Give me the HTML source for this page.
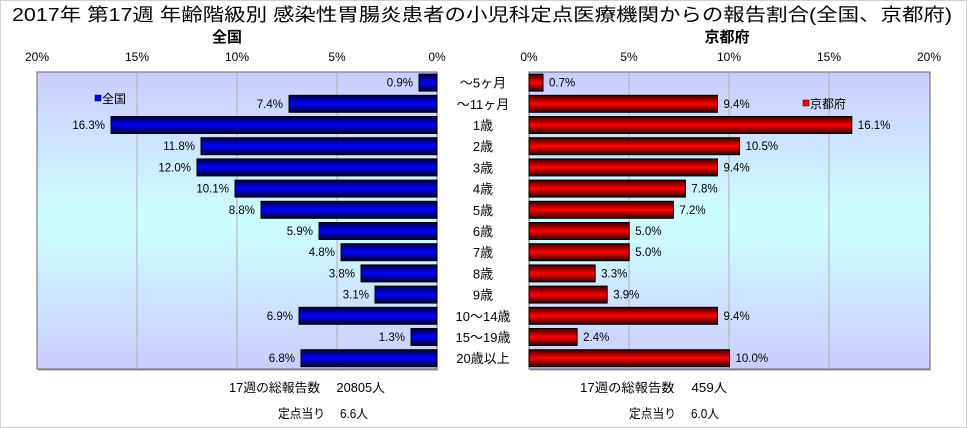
<!DOCTYPE html><html><head><meta charset="utf-8"><style>body{margin:0;background:#fff}svg{display:block}text{font-family:"Liberation Sans","Noto Sans CJK JP",sans-serif;fill:#000}</style></head><body>
<svg width="967" height="428" xmlns="http://www.w3.org/2000/svg">
<defs>
<linearGradient id="bg" x1="0" y1="0" x2="0" y2="1"><stop offset="0" stop-color="#ccccff"/><stop offset="0.5" stop-color="#ccffff"/><stop offset="1" stop-color="#ccccff"/></linearGradient>
<linearGradient id="bl" x1="0" y1="0" x2="0" y2="1"><stop offset="0" stop-color="#000033"/><stop offset="0.5" stop-color="#0000ff"/><stop offset="1" stop-color="#000033"/></linearGradient>
<linearGradient id="rd" x1="0" y1="0" x2="0" y2="1"><stop offset="0" stop-color="#330000"/><stop offset="0.5" stop-color="#ff0000"/><stop offset="1" stop-color="#330000"/></linearGradient>
</defs>
<rect x="0.5" y="0.5" width="966" height="427" fill="#fff" stroke="#d0d0d0"/>
<text x="12" y="21" font-size="18" textLength="940" lengthAdjust="spacingAndGlyphs">2017年 第17週 年齢階級別 感染性胃腸炎患者の小児科定点医療機関からの報告割合(全国、京都府)</text>
<text x="227" y="42" font-size="15" font-weight="bold" text-anchor="middle">全国</text>
<text x="727" y="42" font-size="15" font-weight="bold" text-anchor="middle">京都府</text>
<g font-size="12" text-anchor="middle">
<text x="37" y="61">20%</text><text x="137" y="61">15%</text><text x="237" y="61">10%</text><text x="337" y="61">5%</text><text x="437" y="61">0%</text>
<text x="529" y="61">0%</text><text x="629" y="61">5%</text><text x="729" y="61">10%</text><text x="829" y="61">15%</text><text x="929" y="61">20%</text>
</g>
<rect x="37" y="72" width="400" height="297" fill="url(#bg)" stroke="#666"/>
<rect x="529" y="72" width="401" height="297" fill="url(#bg)" stroke="#666"/>
<g stroke="#b0b0b0"><line x1="137" y1="72" x2="137" y2="369"/><line x1="237" y1="72" x2="237" y2="369"/><line x1="337" y1="72" x2="337" y2="369"/>
<line x1="629" y1="72" x2="629" y2="369"/><line x1="729" y1="72" x2="729" y2="369"/><line x1="829" y1="72" x2="829" y2="369"/></g>
<line x1="38" y1="370" x2="438" y2="370" stroke="#999"/><line x1="530" y1="370" x2="931" y2="370" stroke="#999"/>
<g id="bars" font-size="11.5"></g>
<rect x="95" y="95" width="6" height="6" fill="#0000ff" stroke="#000" stroke-width="0.5"/><text x="102" y="103" font-size="12">全国</text>
<rect x="803" y="100" width="6" height="6" fill="#ff0000" stroke="#000" stroke-width="0.5"/><text x="810" y="108" font-size="12">京都府</text>
<g font-size="12.5">
<text x="229" y="392" textLength="156" lengthAdjust="spacingAndGlyphs">17週の総報告数　 20805人</text>
<text x="278" y="418" textLength="90" lengthAdjust="spacingAndGlyphs">定点当り　 6.6人</text>
<text x="580" y="392" textLength="147" lengthAdjust="spacingAndGlyphs">17週の総報告数　 459人</text>
<text x="629" y="418" textLength="90" lengthAdjust="spacingAndGlyphs">定点当り　 6.0人</text>
</g>
</svg>
<script>
var L=["～5ヶ月","～11ヶ月","1歳","2歳","3歳","4歳","5歳","6歳","7歳","8歳","9歳","10～14歳","15～19歳","20歳以上"];
var A=[0.9,7.4,16.3,11.8,12.0,10.1,8.8,5.9,4.8,3.8,3.1,6.9,1.3,6.8];
var K=[0.7,9.4,16.1,10.5,9.4,7.8,7.2,5.0,5.0,3.3,3.9,9.4,2.4,10.0];
var g=document.getElementById("bars"),s="",h=21.2;
for(var i=0;i<14;i++){var c=72+h*(i+.5);
var w=A[i]*20;s+='<rect x="'+(437-w)+'" y="'+(c-8.5)+'" width="'+w+'" height="17" fill="url(#bl)" stroke="#000"/>';
s+='<text x="'+(437-w-6)+'" y="'+(c+4)+'" text-anchor="end">'+A[i].toFixed(1)+'%</text>';
var v=K[i]*20.05;s+='<rect x="529" y="'+(c-8.5)+'" width="'+v+'" height="17" fill="url(#rd)" stroke="#000"/>';
s+='<text x="'+(529+v+6)+'" y="'+(c+4)+'">'+K[i].toFixed(1)+'%</text>';
s+='<text x="483" y="'+(c+5)+'" text-anchor="middle" font-size="13">'+L[i]+'</text>';}
g.innerHTML=s;
</script>
</body></html>
